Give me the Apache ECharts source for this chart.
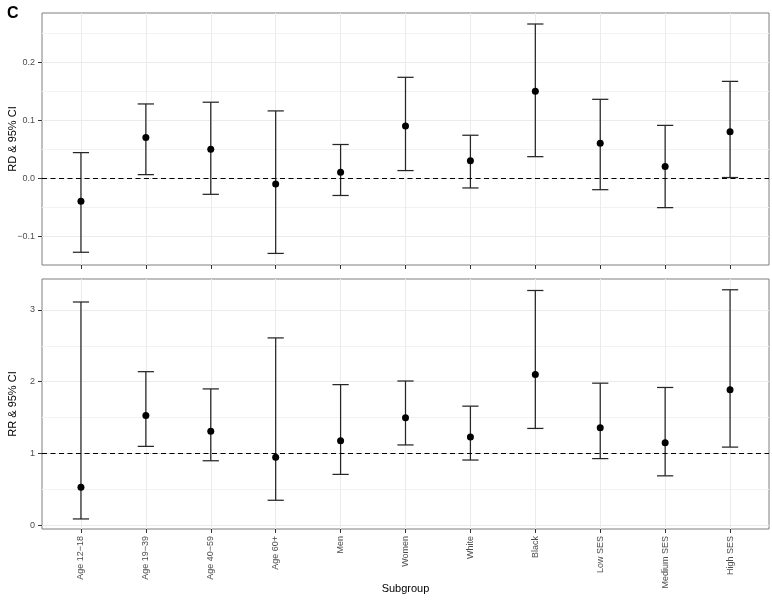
<!DOCTYPE html>
<html>
<head>
<meta charset="utf-8">
<script src="https://cdn.jsdelivr.net/npm/echarts@6/dist/echarts.min.js"></script>
<style>
  html, body { margin: 0; padding: 0; background: #fff; }
  #chart { width: 772px; height: 602px; }
</style>
</head>
<body>
<div id="chart"></div>
<script>
  // subgroups along the x axis
  var categories = ['Age 12\u221218', 'Age 19\u221239', 'Age 40\u221259', 'Age 60+', 'Men', 'Women',
    'White', 'Black', 'Low SES', 'Medium SES', 'High SES'];

  // risk difference with 95% CI (top panel)
  var rdEst = [-0.04, 0.07, 0.05, -0.01, 0.01, 0.09, 0.03, 0.15, 0.06, 0.02, 0.08];
  var rdLow = [-0.128, 0.006, -0.028, -0.130, -0.030, 0.013, -0.017, 0.037, -0.020, -0.051, 0.001];
  var rdHigh = [0.044, 0.128, 0.131, 0.116, 0.058, 0.174, 0.074, 0.266, 0.136, 0.091, 0.167];

  // risk ratio with 95% CI (bottom panel)
  var rrEst = [0.53, 1.53, 1.31, 0.95, 1.18, 1.50, 1.23, 2.10, 1.36, 1.15, 1.89];
  var rrLow = [0.09, 1.10, 0.90, 0.35, 0.71, 1.12, 0.91, 1.35, 0.93, 0.69, 1.09];
  var rrHigh = [3.11, 2.14, 1.90, 2.61, 1.96, 2.01, 1.66, 3.27, 1.98, 1.92, 3.28];

  // tick labels
  var rdTicks = [-0.1, 0, 0.1, 0.2];
  var rrTicks = [0, 1, 2, 3];

  // reference lines
  var rdRef = 0;
  var rrRef = 1;

  var font = 'Liberation Sans, Arial, Helvetica, sans-serif';
  var tickCol = '#333333';
  var labelCol = '#4d4d4d';
  var catIdx = categories.map(function (c, i) { return i; });

  function xAxisOpt(idx, showLabels) {
    return {
      type: 'value',
      gridIndex: idx,
      min: -0.6,
      max: 10.6,
      minInterval: 1,
      maxInterval: 1,
      axisLine: { show: false, onZero: false },
      axisTick: { show: true, length: 4, customValues: catIdx, lineStyle: { color: tickCol, width: 1 } },
      axisLabel: {
        show: showLabels,
        customValues: catIdx,
        rotate: 90,
        margin: 7,
        fontSize: 9,
        fontFamily: font,
        color: labelCol,
        formatter: function (v) {
          return categories[Math.round(v)];
        }
      },
      splitLine: { show: true, lineStyle: { color: '#ebebeb', width: 1 } },
      name: showLabels ? 'Subgroup' : '',
      nameLocation: 'middle',
      nameGap: 54,
      nameMoveOverlap: false,
      nameTextStyle: { fontSize: 11, fontFamily: font, color: '#000' }
    };
  }

  function yAxisOpt(idx, min, max, step, ticks, name, fmt) {
    return {
      type: 'value',
      gridIndex: idx,
      min: min,
      max: max,
      minInterval: step,
      maxInterval: step,
      axisLine: { show: false, onZero: false },
      axisTick: { show: true, length: 4, customValues: ticks, lineStyle: { color: tickCol, width: 1 } },
      axisLabel: {
        customValues: ticks,
        margin: 7,
        fontSize: 9,
        fontFamily: font,
        color: labelCol,
        formatter: fmt
      },
      splitLine: { show: true, lineStyle: { color: '#ebebeb', width: 1 } },
      minorTick: { show: false, splitNumber: 2 },
      minorSplitLine: { show: true, lineStyle: { color: '#f2f2f2', width: 1 } },
      name: name,
      nameLocation: 'middle',
      nameGap: 24,
      nameMoveOverlap: false,
      nameTextStyle: { fontSize: 11, fontFamily: font, color: '#000' }
    };
  }

  function errorBars(idx, lo, hi) {
    return {
      type: 'custom',
      xAxisIndex: idx,
      yAxisIndex: idx,
      data: categories.map(function (c, i) { return [i, lo[i], hi[i]]; }),
      encode: { x: 0, y: [1, 2] },
      z: 3,
      renderItem: function (params, api) {
        var x = api.value(0);
        var pLo = api.coord([x, api.value(1)]);
        var pHi = api.coord([x, api.value(2)]);
        var hw = api.size([0.125, 0])[0];
        var st = { stroke: '#262626', lineWidth: 1.25 };
        return {
          type: 'group',
          children: [
            { type: 'line', shape: { x1: pLo[0], y1: pLo[1], x2: pHi[0], y2: pHi[1] }, style: st },
            { type: 'line', shape: { x1: pLo[0] - hw, y1: pLo[1], x2: pLo[0] + hw, y2: pLo[1] }, style: st },
            { type: 'line', shape: { x1: pHi[0] - hw, y1: pHi[1], x2: pHi[0] + hw, y2: pHi[1] }, style: st }
          ]
        };
      }
    };
  }

  function points(idx, est, ref) {
    return {
      type: 'scatter',
      xAxisIndex: idx,
      yAxisIndex: idx,
      data: categories.map(function (c, i) { return [i, est[i]]; }),
      symbolSize: 7,
      itemStyle: { color: '#000', opacity: 1 },
      z: 4,
      markLine: {
        silent: true,
        symbol: ['none', 'none'],
        label: { show: false },
        lineStyle: { color: '#000', width: 1, type: [5, 3.5] },
        data: [{ yAxis: ref }]
      }
    };
  }

  var chart = echarts.init(document.getElementById('chart'));
  chart.setOption({
    animation: false,
    backgroundColor: '#fff',
    title: {
      text: 'C',
      left: 2,
      top: 1,
      textStyle: { fontSize: 16, fontWeight: 'bold', fontFamily: font, color: '#000' }
    },
    grid: [
      { left: 42, top: 13, width: 727, height: 252, show: true, borderColor: '#7f7f7f', borderWidth: 1,
        backgroundColor: '#fff', containLabel: false, outerBoundsMode: 'none' },
      { left: 42, top: 279, width: 727, height: 250, show: true, borderColor: '#7f7f7f', borderWidth: 1,
        backgroundColor: '#fff', containLabel: false, outerBoundsMode: 'none' }
    ],
    xAxis: [xAxisOpt(0, false), xAxisOpt(1, true)],
    yAxis: [
      yAxisOpt(0, -0.150, 0.285, 0.1, rdTicks, 'RD & 95% CI', function (v) {
        return (v < -1e-9 ? '\u2212' : '') + Math.abs(v).toFixed(1);
      }),
      yAxisOpt(1, -0.05, 3.43, 1, rrTicks, 'RR & 95% CI', function (v) {
        return v.toFixed(0);
      })
    ],
    series: [
      errorBars(0, rdLow, rdHigh),
      points(0, rdEst, rdRef),
      errorBars(1, rrLow, rrHigh),
      points(1, rrEst, rrRef)
    ]
  });
</script>
</body>
</html>
